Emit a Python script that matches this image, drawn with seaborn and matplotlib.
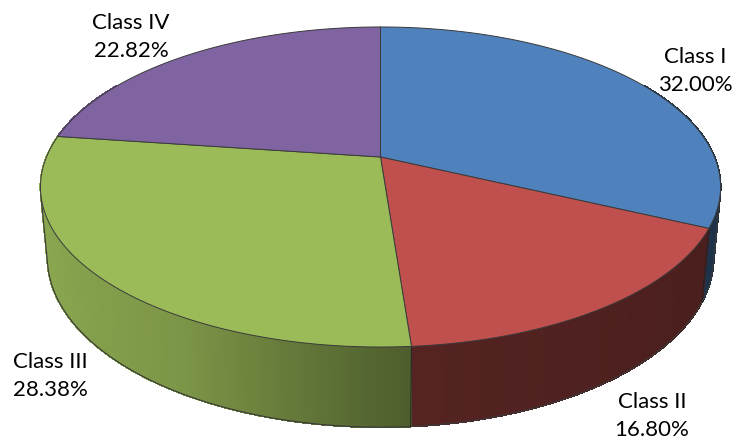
import numpy as np
import matplotlib
matplotlib.use("Agg")
import matplotlib.pyplot as plt
import seaborn as sns

# Data
categories = ["Class I", "Class II", "Class III", "Class IV"]
shares = [32.00, 16.80, 28.38, 22.82]
slice_colors = ["#4F81BD", "#C0504D", "#9BBB59", "#8064A2"]

# Layout of the perspective disc (pixel-like axes units)
CX, CY = 380.5, 157.0
A, B, K = 334.0, 154.4, 0.1875
M, D = 0.02, 70.5
label_xy = [(695, 71), (652, 416), (50, 376), (131, 37)]

sns.set_theme(style="white")
plt.rcParams["font.family"] = ["Lato", "DejaVu Sans"]

fig, ax = plt.subplots(figsize=(7.39, 4.45), dpi=100)
fig.subplots_adjust(0, 0, 1, 1)
ax.set_xlim(0, 739)
ax.set_ylim(445, 0)
ax.axis("off")


def project(theta, depth=0.0):
    """Clockwise angle from the top, depth 0 = top face, 1 = bottom face."""
    u, v = np.sin(theta), np.cos(theta)
    w = 1 + K * v + M * depth
    return CX + A * u / w, CY - (B * v - D * depth) / w


def tangent(side):
    """Outer tangent between top rim and bottom rim on one side (+1 right, -1 left)."""
    th = np.linspace(0, 2 * np.pi, 1440, endpoint=False)
    xt, yt = project(th)
    xb, yb = project(th, 1.0)
    best = None
    for s in np.linspace(-0.6, 0.6, 1201):
        st = side * xt + s * yt
        sb = side * xb + s * yb
        i, j = np.argmax(st), np.argmax(sb)
        gap = abs(st[i] - sb[j])
        if best is None or gap < best[0]:
            best = (gap, th[i], th[j])
    return best[1], best[2]


fractions = np.asarray(shares) / np.sum(shares)
edges = np.concatenate([[0.0], np.cumsum(fractions)]) * 2 * np.pi
palette = sns.color_palette(slice_colors)
ink = "#3a3a3a"

# Side wall: small shaded quads, back to front
quads = []
for i, col in enumerate(palette):
    th = np.linspace(edges[i], edges[i + 1], max(3, int(fractions[i] * 720)))
    for a, b in zip(th[:-1], th[1:]):
        quads.append((np.cos((a + b) / 2), a, b, col))
quads.sort(key=lambda q: -q[0])
for _, a, b, col in quads:
    mid = (a + b) / 2
    if np.cos(mid) > 0.5:
        continue
    shade = np.interp(np.sin(mid), [-1.0, -0.5, 0.07, 0.08, 1.0],
                      [0.90, 0.80, 0.50, 0.44, 0.38])
    c = tuple(shade * np.array(col))
    xt, yt = project(np.array([a, b]))
    xb, yb = project(np.array([b, a]), 1.0)
    ax.fill(np.r_[xt, xb], np.r_[yt, yb], facecolor=c, edgecolor=c, lw=0.8,
            antialiased=False, zorder=1)

# Outline of the wall: bottom rim joined to the top rim by the two tangents
tr_t, tr_b = tangent(+1)
tl_t, tl_b = tangent(-1)
th = np.linspace(tr_b, tl_b, 400)
bx, by = project(th, 1.0)
x_top_r, y_top_r = project(tr_t)
x_top_l, y_top_l = project(tl_t)
ax.plot(np.r_[x_top_r, bx, x_top_l], np.r_[y_top_r, by, y_top_l],
        color=ink, lw=0.8, zorder=2)
for e in edges:
    if np.cos(e) < 0:
        x0, y0 = project(e)
        x1, y1 = project(e, 1.0)
        ax.plot([x0, x1], [y0, y1], color="#222222", lw=0.7, zorder=2)

# Top face
for i, col in enumerate(palette):
    th = np.linspace(edges[i], edges[i + 1], 200)
    x, y = project(th)
    ax.fill(np.r_[CX, x], np.r_[CY, y], facecolor=col, edgecolor=ink,
            lw=0.7, joinstyle="round", zorder=3)

# Labels
for name, share, (lx, ly) in zip(categories, shares, label_xy):
    ax.text(lx, ly, f"{name}\n{share:.2f}%", ha="center", va="center",
            fontsize=16, color="black", linespacing=1.56, zorder=5)

fig.savefig("out.png", dpi=100)
